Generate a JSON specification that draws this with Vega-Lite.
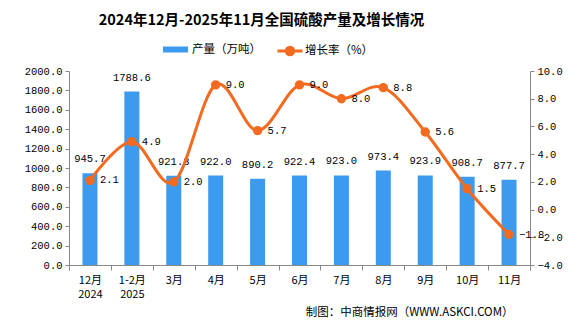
{
  "$schema": "https://vega.github.io/schema/vega-lite/v6.json",
  "width": 461,
  "height": 194,
  "autosize": {"type": "none"},
  "padding": {"left": 69, "top": 71, "right": 45, "bottom": 61},
  "background": "white",
  "title": {
    "text": "2024年12月-2025年11月全国硫酸产量及增长情况",
    "font": "Noto Sans CJK SC",
    "fontSize": 14.5,
    "fontWeight": "bold",
    "color": "#000000",
    "anchor": "middle",
    "dx": -38,
    "offset": 9
  },
  "config": {
    "view": {"stroke": null},
    "axis": {"grid": false}
  },
  "data": {
    "values": [
      {"month": "12月", "prod": 945.7, "growth": 2.1},
      {"month": "1-2月", "prod": 1788.6, "growth": 4.9},
      {"month": "3月", "prod": 921.3, "growth": 2.0},
      {"month": "4月", "prod": 922.0, "growth": 9.0},
      {"month": "5月", "prod": 890.2, "growth": 5.7},
      {"month": "6月", "prod": 922.4, "growth": 9.0},
      {"month": "7月", "prod": 923.0, "growth": 8.0},
      {"month": "8月", "prod": 973.4, "growth": 8.8},
      {"month": "9月", "prod": 923.9, "growth": 5.6},
      {"month": "10月", "prod": 908.7, "growth": 1.5},
      {"month": "11月", "prod": 877.7, "growth": -1.8}
    ]
  },
  "encoding": {
    "x": {
      "field": "month",
      "type": "nominal",
      "sort": null,
      "scale": {"paddingInner": 0, "paddingOuter": 0},
      "axis": {
        "labelAngle": 0,
        "labelExpr": "datum.value == '12月' ? ['12月','2024'] : datum.value == '1-2月' ? ['1-2月','2025'] : datum.value",
        "labelFont": "Noto Sans CJK SC",
        "labelFontSize": 11,
        "labelColor": "#000000",
        "labelLineHeight": 14,
        "labelPadding": 4,
        "tickBand": "extent",
        "tickSize": 5,
        "tickColor": "#888888",
        "domainColor": "#888888",
        "title": "制图：中商情报网（WWW.ASKCI.COM）",
        "titleFont": "Noto Sans CJK SC",
        "titleFontSize": 11.5,
        "titleFontWeight": "normal",
        "titleColor": "#000000",
        "titleAlign": "right",
        "titleBaseline": "middle",
        "titleAnchor": "end",
        "titleX": 444,
        "titleY": 47
      }
    }
  },
  "layer": [
    {
      "encoding": {
        "y": {
          "field": "prod",
          "type": "quantitative",
          "scale": {"domain": [0, 2000], "nice": false},
          "axis": {
            "orient": "left",
            "values": [0, 200, 400, 600, 800, 1000, 1200, 1400, 1600, 1800, 2000],
            "format": ".1f",
            "labelFont": "Liberation Mono",
            "labelFontSize": 10.5,
            "labelColor": "#000000",
            "tickSize": 4,
            "tickColor": "#888888",
            "domainColor": "#888888",
            "labelPadding": 3,
            "title": null
          }
        }
      },
      "layer": [
        {
          "mark": {"type": "bar", "size": 15},
          "encoding": {
            "fill": {
              "datum": "产量（万吨）",
              "type": "nominal",
              "scale": {"range": ["#3D9BEF"]},
              "legend": {
                "orient": "none",
                "legendX": 94,
                "legendY": -34,
                "padding": 0,
                "title": null,
                "symbolType": "M-1,-0.24H1V0.24H-1Z",
                "symbolSize": 625,
                "symbolStrokeWidth": 0,
                "labelFont": "Noto Sans CJK SC",
                "labelFontSize": 11.5,
                "labelColor": "#000000",
                "labelOffset": 4
              }
            }
          }
        },
        {
          "mark": {
            "type": "text",
            "baseline": "middle",
            "dy": -14,
            "font": "Liberation Mono",
            "fontSize": 10.5,
            "color": "#000000"
          },
          "encoding": {
            "text": {"field": "prod", "type": "quantitative", "format": ".1f"}
          }
        }
      ]
    },
    {
      "encoding": {
        "y": {
          "field": "growth",
          "type": "quantitative",
          "scale": {"domain": [-4, 10], "nice": false},
          "axis": {
            "orient": "right",
            "values": [-4, -2, 0, 2, 4, 6, 8, 10],
            "format": ".1f",
            "labelFont": "Liberation Mono",
            "labelFontSize": 10.5,
            "labelColor": "#000000",
            "tickSize": 4,
            "tickColor": "#888888",
            "domainColor": "#888888",
            "labelPadding": 3,
            "title": null
          }
        }
      },
      "layer": [
        {
          "mark": {
            "type": "line",
            "interpolate": "cardinal",
            "strokeWidth": 3,
            "point": {"filled": true, "size": 55, "color": "#F26B20"}
          },
          "encoding": {
            "stroke": {
              "datum": "增长率（%）",
              "type": "nominal",
              "scale": {"range": ["#F26B20"]},
              "legend": {
                "orient": "none",
                "legendX": 207,
                "legendY": -34,
                "padding": 0,
                "title": null,
                "symbolType": "M-1,0H1M0.3,0A0.3,0.3,0,1,1,-0.3,0A0.3,0.3,0,1,1,0.3,0Z",
                "symbolSize": 625,
                "symbolStrokeWidth": 3,
                "symbolFillColor": "#F26B20",
                "labelFont": "Noto Sans CJK SC",
                "labelFontSize": 11.5,
                "labelColor": "#000000",
                "labelOffset": 1
              }
            }
          }
        },
        {
          "mark": {
            "type": "text",
            "align": "left",
            "baseline": "middle",
            "dx": 10,
            "font": "Liberation Mono",
            "fontSize": 10.5,
            "color": "#000000"
          },
          "encoding": {
            "text": {"field": "growth", "type": "quantitative", "format": ".1f"}
          }
        }
      ]
    }
  ],
  "resolve": {"scale": {"y": "independent", "fill": "independent", "stroke": "independent"}}
}
